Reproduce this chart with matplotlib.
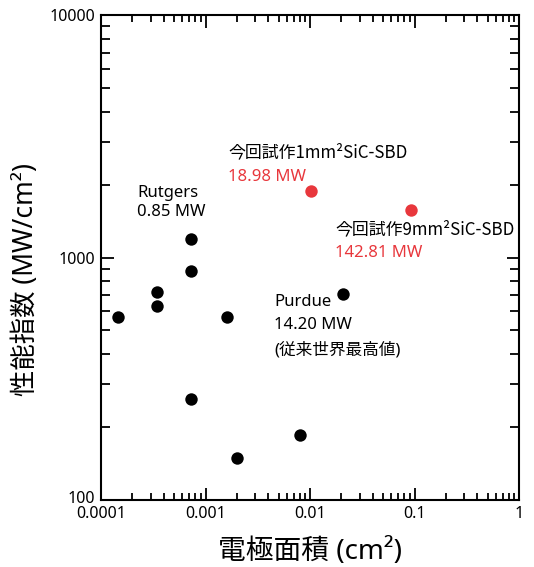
import numpy as np
import matplotlib
matplotlib.use("Agg")
import matplotlib.pyplot as plt
import matplotlib.transforms as mtransforms
from matplotlib.ticker import LogLocator, FuncFormatter, NullFormatter

plt.rcParams['font.family'] = ['Noto Sans', 'Noto Sans CJK JP', 'DejaVu Sans']

# 従来デバイス (電極面積 cm2, 性能指数 MW/cm2)
area_prev = [1.45e-4, 3.4e-4, 3.4e-4, 7.2e-4, 7.2e-4, 7.2e-4, 1.6e-3, 2.0e-3, 8.0e-3, 0.0206]
fom_prev = [571, 718, 628, 1189, 880, 262, 571, 149, 186, 706]

# 今回試作
area_new = [0.0102, 0.092]
fom_new = [1887, 1577]

red = '#e8373c'

fig = plt.figure(figsize=(5.34, 5.67), dpi=100)
ax = fig.add_axes([101/534, 67/567, 418/534, 485/567])

ax.scatter(area_prev, fom_prev, s=80, color='black', zorder=3, linewidths=0)
ax.scatter(area_new, fom_new, s=80, color=red, zorder=3, linewidths=0)

ax.set_xscale('log')
ax.set_yscale('log')
ax.set_xlim(1e-4, 1)
ax.set_ylim(100, 10000)

ax.xaxis.set_major_locator(LogLocator(base=10, numticks=10))
ax.yaxis.set_major_locator(LogLocator(base=10, numticks=10))
ax.xaxis.set_minor_locator(LogLocator(base=10, subs=np.arange(2, 10), numticks=20))
ax.yaxis.set_minor_locator(LogLocator(base=10, subs=np.arange(2, 10), numticks=20))
fmt = FuncFormatter(lambda v, p: '%g' % v)
ax.xaxis.set_major_formatter(fmt)
ax.yaxis.set_major_formatter(fmt)
ax.xaxis.set_minor_formatter(NullFormatter())
ax.yaxis.set_minor_formatter(NullFormatter())

ax.tick_params(which='both', direction='in', top=True, right=True, width=1.3, labelsize=11.5)
ax.tick_params(axis='x', which='major', length=9, pad=4)
ax.tick_params(axis='x', which='minor', length=5)
ax.tick_params(axis='y', which='major', length=9, pad=4)
ax.tick_params(axis='y', which='minor', length=6.5)
for s in ax.spines.values():
    s.set_linewidth(1.5)

# "100" を少し上へ (0.0001 と重ならないように)
fig.canvas.draw()
for lab in ax.get_yticklabels():
    if lab.get_text() == '100':
        lab.set_transform(lab.get_transform() + mtransforms.ScaledTranslation(0, 3/100, fig.dpi_scale_trans))

ax.set_xlabel('電極面積 (cm²)', fontsize=20, labelpad=12)
ax.set_ylabel('性能指数 (MW/cm²)', fontsize=19)
ax.yaxis.set_label_coords(-0.145, 0.455)

tf = ax.transAxes
ax.text(0.086, 0.614, 'Rutgers\n0.85 MW', transform=tf, fontsize=12, va='center', ha='left', linespacing=1.25)
ax.text(0.304, 0.717, '今回試作1mm²SiC-SBD', transform=tf, fontsize=12.2, va='center', ha='left',
        family=['Noto Sans CJK JP'])
ax.text(0.304, 0.666, '18.98 MW', transform=tf, fontsize=12, va='center', ha='left', color=red)
ax.text(0.56, 0.559, '今回試作9mm²SiC-SBD', transform=tf, fontsize=12.2, va='center', ha='left',
        family=['Noto Sans CJK JP'])
ax.text(0.56, 0.509, '142.81 MW', transform=tf, fontsize=12, va='center', ha='left', color=red)
ax.text(0.414, 0.408, 'Purdue', transform=tf, fontsize=12, va='center', ha='left')
ax.text(0.414, 0.361, '14.20 MW', transform=tf, fontsize=12, va='center', ha='left')
ax.text(0.414, 0.309, '(従来世界最高値)', transform=tf, fontsize=12, va='center', ha='left')

fig.savefig('out.png', dpi=100)
